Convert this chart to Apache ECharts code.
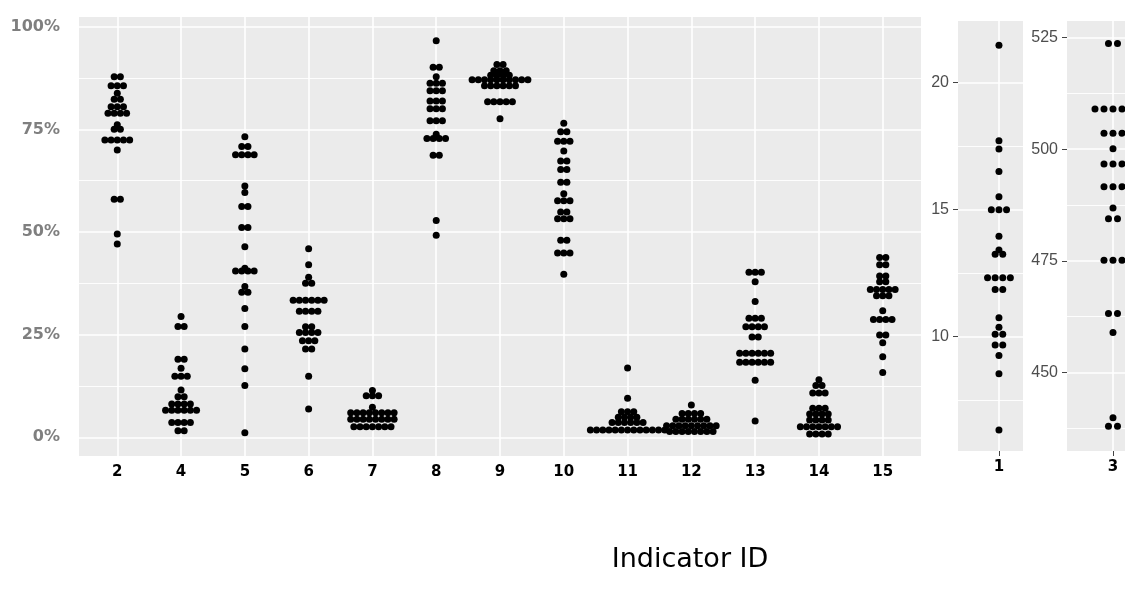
<!DOCTYPE html>
<html><head><meta charset="utf-8">
<script src="https://cdn.jsdelivr.net/npm/echarts@6/dist/echarts.min.js"></script>
<style>html,body{margin:0;padding:0;background:#fff}#c{width:1125px;height:593px}</style>
</head><body><div id="c"></div>
<script>
// ---------- DATA ----------
const mainCategories = ['2','4','5','6','7','8','9','10','11','12','13','14','15'];
const ind2  = [87.8,87.8, 85.6,85.6,85.6, 83.8, 82.3,82.3, 80.5,80.5,80.5, 78.9,78.9,78.9,78.9, 76.1, 75.0,75.0, 72.4,72.4,72.4,72.4,72.4, 70.0, 58.0,58.0, 49.5, 47.1];
const ind4  = [29.4, 27.0,27.0, 19.0,19.0, 16.8, 14.9,14.9,14.9, 11.5, 9.9,9.9, 8.1,8.1,8.1,8.1, 6.6,6.6,6.6,6.6,6.6,6.6, 3.6,3.6,3.6,3.6, 1.6,1.6];
const ind5  = [73.2, 70.8,70.8, 68.8,68.8,68.8,68.8, 61.2, 59.6, 56.2,56.2, 51.1,51.1, 46.4, 41.2, 40.5,40.5,40.5,40.5, 36.7, 35.3,35.3, 31.4, 27.0, 21.5, 16.7, 12.6, 1.1];
const ind6  = [45.9, 42.0, 39.0, 37.5,37.5, 33.4,33.4,33.4,33.4,33.4,33.4, 30.7,30.7,30.7,30.7, 26.9,26.9, 25.5,25.5,25.5,25.5, 23.5,23.5,23.5, 21.5,21.5, 14.9, 6.9];
const ind7  = [11.4, 10.1,10.1,10.1, 7.3, 6.0,6.0,6.0,6.0,6.0,6.0,6.0,6.0, 4.4,4.4,4.4,4.4,4.4,4.4,4.4,4.4, 2.6,2.6,2.6,2.6,2.6,2.6,2.6];
const ind8  = [96.6, 90.1,90.1, 87.8, 86.2,86.2,86.2, 84.4,84.4,84.4, 81.9,81.9,81.9, 80.0,80.0,80.0, 77.1,77.1,77.1, 73.8, 72.8,72.8,72.8,72.8, 68.7,68.7, 52.8, 49.2];
const ind9  = [90.8,90.8, 89.3,89.3,89.3, 88.2,88.2,88.2,88.2, 87.1,87.1,87.1,87.1,87.1,87.1,87.1,87.1,87.1,87.1, 85.6,85.6,85.6,85.6,85.6,85.6, 81.7,81.7,81.7,81.7,81.7, 77.6];
const ind10 = [76.5, 74.4,74.4, 72.1,72.1,72.1, 69.7, 67.3,67.3, 65.2,65.2, 62.1,62.1, 59.3, 57.6,57.6,57.6, 54.9,54.9, 53.2,53.2,53.2, 48.0,48.0, 44.9,44.9,44.9, 39.7];
const ind11 = [16.9, 9.5, 6.2,6.2,6.2, 4.9,4.9,4.9,4.9, 3.6,3.6,3.6,3.6,3.6,3.6, 1.8,1.8,1.8,1.8,1.8,1.8,1.8,1.8,1.8,1.8,1.8,1.8,1.8];
const ind12 = [7.9, 5.8,5.8,5.8,5.8, 4.4,4.4,4.4,4.4,4.4,4.4, 2.8,2.8,2.8,2.8,2.8,2.8,2.8,2.8,2.8, 1.4,1.4,1.4,1.4,1.4,1.4,1.4,1.4];
const ind13 = [40.2,40.2,40.2, 37.9, 33.1, 29.0,29.0,29.0, 26.9,26.9,26.9,26.9, 24.4,24.4, 20.5,20.5,20.5,20.5,20.5,20.5, 18.3,18.3,18.3,18.3,18.3,18.3, 13.9, 4.0];
const ind14 = [14.0, 12.6,12.6, 10.8,10.8,10.8, 7.1,7.1,7.1, 5.7,5.7,5.7,5.7, 4.2,4.2,4.2,4.2, 2.6,2.6,2.6,2.6,2.6,2.6,2.6, 0.8,0.8,0.8,0.8];
const ind15 = [43.8,43.8, 42.0,42.0, 39.3,39.3, 37.9,37.9, 36.0,36.0,36.0,36.0,36.0, 34.5,34.5,34.5, 30.8, 28.7,28.7,28.7,28.7, 24.9,24.9, 23.0, 19.6, 15.8];
const mainValues = [ind2, ind4, ind5, ind6, ind7, ind8, ind9, ind10, ind11, ind12, ind13, ind14, ind15];

const panel1Category = '1';
const ind1 = [21.48, 17.72, 17.39, 16.5, 15.51, 15.0,15.0,15.0, 13.96, 13.41, 13.25,13.25, 12.32,12.32,12.32,12.32, 11.86,11.86, 10.75, 10.37, 10.1,10.1, 9.67,9.67, 9.26, 8.54, 6.33];
const panel3Category = '3';
const ind3 = [523.7,523.7, 509.0,509.0,509.0,509.0,509.0, 503.6,503.6,503.6, 500.1, 496.7,496.7,496.7, 491.6,491.6,491.6, 486.8, 484.4,484.4, 475.1,475.1,475.1, 463.2,463.2, 458.9, 439.8, 437.9,437.9];

const mainYTicks  = [0, 25, 50, 75, 100];
const mainYMinor  = [12.5, 37.5, 62.5, 87.5];
const ind1YTicks  = [10, 15, 20];
const ind1YMinor  = [7.5, 12.5, 17.5];
const ind3YTicks  = [450, 475, 500, 525];
const ind3YMinor  = [437.5, 462.5, 487.5, 512.5];

// ---------- LAYOUT HELPERS ----------
function dotLayout(values, xPos, spacing) {
  const groups = new Map();
  values.forEach(v => groups.set(v, (groups.get(v) || 0) + 1));
  const out = [];
  groups.forEach((n, v) => {
    for (let i = 0; i < n; i++) {
      out.push({ value: [xPos, v], symbolOffset: [(i - (n - 1) / 2) * spacing, 0] });
    }
  });
  return out;
}
function gridLines(gi, majorY, minorY, xs) {
  const data = [];
  majorY.forEach(v => data.push({ yAxis: v, lineStyle: { width: 1.6 } }));
  minorY.forEach(v => data.push({ yAxis: v, lineStyle: { width: 0.9 } }));
  xs.forEach(v => data.push({ xAxis: v, lineStyle: { width: 1.6 } }));
  return {
    type: 'scatter', xAxisIndex: gi, yAxisIndex: gi, data: [], silent: true,
    markLine: { silent: true, symbol: ['none', 'none'], label: { show: false },
      lineStyle: { color: '#ffffff', type: 'solid' }, animation: false, data: data }
  };
}

const mainIdx = mainCategories.map((c, i) => i + 1);
const mainDots = [];
mainValues.forEach((vals, i) => dotLayout(vals, mainIdx[i], 6.2).forEach(d => mainDots.push(d)));

const tickFont = { fontFamily: 'DejaVu Sans', fontWeight: 'bold', fontSize: 15, color: '#000' };
const sideYLabel = { fontFamily: 'Liberation Sans', fontSize: 16, color: '#4d4d4d', margin: 9 };
const dotStyle = { color: '#000', opacity: 1 };

const chart = echarts.init(document.getElementById('c'), null, { renderer: 'canvas' });
chart.setOption({
  animation: false,
  backgroundColor: '#ffffff',
  grid: [
    { left: 79, top: 17, width: 842, height: 439, show: true, backgroundColor: '#EBEBEB', borderWidth: 0 },
    { left: 958, top: 21, width: 65, height: 430, show: true, backgroundColor: '#EBEBEB', borderWidth: 0 },
    { left: 1067, top: 21, width: 58, height: 430, show: true, backgroundColor: '#EBEBEB', borderWidth: 0 }
  ],
  xAxis: [
    { gridIndex: 0, type: 'value', min: 0.4, max: 13.6,
      axisLine: { show: false }, axisTick: { show: false }, splitLine: { show: false },
      axisLabel: Object.assign({ customValues: mainIdx, formatter: v => mainCategories[v - 1], margin: 9 }, tickFont) },
    { gridIndex: 1, type: 'value', min: 0.37, max: 1.37,
      axisLine: { show: false }, splitLine: { show: false },
      axisTick: { show: true, customValues: [1], length: 5, lineStyle: { color: '#444' } },
      axisLabel: Object.assign({ customValues: [1], formatter: () => panel1Category, margin: 9 }, tickFont) },
    { gridIndex: 2, type: 'value', min: 2.207, max: 3.207,
      axisLine: { show: false }, splitLine: { show: false },
      axisTick: { show: true, customValues: [3], length: 5, lineStyle: { color: '#444' } },
      axisLabel: Object.assign({ customValues: [3], formatter: () => panel3Category, margin: 9 }, tickFont) }
  ],
  yAxis: [
    { gridIndex: 0, type: 'value', min: -4.55, max: 102.36,
      axisLine: { show: false }, axisTick: { show: false }, splitLine: { show: false },
      axisLabel: { customValues: mainYTicks, formatter: v => v + '%', fontFamily: 'DejaVu Sans', fontWeight: 'bold', fontSize: 16, color: '#7f7f7f', margin: 19 } },
    { gridIndex: 1, type: 'value', min: 5.5, max: 22.43,
      axisLine: { show: false }, splitLine: { show: false },
      axisTick: { show: true, customValues: ind1YTicks, length: 5, lineStyle: { color: '#444' } },
      axisLabel: Object.assign({ customValues: ind1YTicks }, sideYLabel) },
    { gridIndex: 2, type: 'value', min: 432.36, max: 528.74,
      axisLine: { show: false }, splitLine: { show: false },
      axisTick: { show: true, customValues: ind3YTicks, length: 5, lineStyle: { color: '#444' } },
      axisLabel: Object.assign({ customValues: ind3YTicks }, sideYLabel) }
  ],
  graphic: [
    { type: 'text', x: 690, y: 560, style: { text: 'Indicator ID', fontFamily: 'DejaVu Sans', fontSize: 27, fill: '#000', textAlign: 'center', textVerticalAlign: 'middle' } }
  ],
  series: [
    gridLines(0, mainYTicks, mainYMinor, mainIdx),
    gridLines(1, ind1YTicks, ind1YMinor, [1]),
    gridLines(2, ind3YTicks, ind3YMinor, [3]),
    { type: 'scatter', xAxisIndex: 0, yAxisIndex: 0, z: 10, symbol: 'circle', symbolSize: 7,
      itemStyle: dotStyle, data: mainDots },
    { type: 'scatter', xAxisIndex: 1, yAxisIndex: 1, z: 10, symbol: 'circle', symbolSize: 7,
      itemStyle: dotStyle, data: dotLayout(ind1, 1, 7.6) },
    { type: 'scatter', xAxisIndex: 2, yAxisIndex: 2, z: 10, symbol: 'circle', symbolSize: 7,
      itemStyle: dotStyle, data: dotLayout(ind3, 3, 9) }
  ]
});
</script></body></html>
